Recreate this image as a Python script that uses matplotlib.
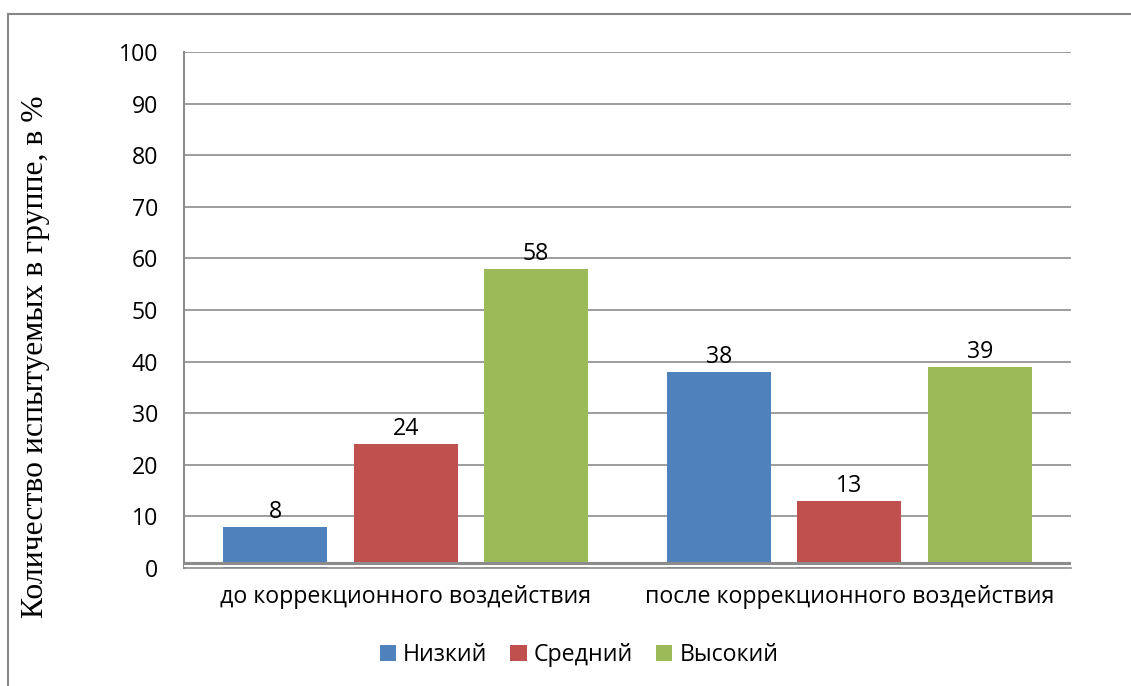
import numpy as np
import matplotlib
matplotlib.use("Agg")
import matplotlib.pyplot as plt
from matplotlib.patches import Rectangle, Patch

categories = ["до коррекционного воздействия", "после коррекционного воздействия"]
series = ["Низкий", "Средний", "Высокий"]
values = {
    "Низкий": [8, 38],
    "Средний": [24, 13],
    "Высокий": [58, 39],
}
colors = {"Низкий": "#4F81BD", "Средний": "#C0504D", "Высокий": "#9BBB59"}
yticks = [0, 10, 20, 30, 40, 50, 60, 70, 80, 90, 100]
ylabel = "Количество испытуемых в группе, в %"

plt.rcParams["font.family"] = ["Open Sans", "DejaVu Sans"]
GRID = "#8c8c8c"
FS = 16.7

fig = plt.figure(figsize=(11.31, 6.86), dpi=100)
ax = fig.add_axes([184 / 1131, 1 - 568 / 686, 887 / 1131, 516 / 686])

x = np.arange(len(categories))
width = 0.2345
step = 0.294
for i, s in enumerate(series):
    xs = x + (i - 1) * step
    ax.bar(xs, values[s], width=width, color=colors[s], zorder=2)
    for xi, v in zip(xs, values[s]):
        ax.annotate(str(v), (xi, v), xytext=(0, 6.5), textcoords="offset points",
                    ha="center", va="baseline", fontsize=FS, zorder=4)

ax.set_xlim(-0.5, 1.5)
ax.set_ylim(0, 100)
ax.set_yticks(yticks)
ax.set_yticklabels([str(t) for t in yticks], fontsize=FS)
ax.set_xticks(x)
ax.set_xticklabels(categories, fontsize=FS)
ax.tick_params(axis="both", length=0)
ax.tick_params(axis="y", pad=18.5)
ax.tick_params(axis="x", pad=12)

for t in yticks[1:]:
    ax.axhline(t, color=GRID, lw=1.2, zorder=1)
# Excel-like double base line
ax.axhspan(0.15, 0.75, color="white", zorder=3, lw=0)
ax.axhline(1.05, color=GRID, lw=2.2, zorder=3)

for side in ["top", "right"]:
    ax.spines[side].set_visible(False)
ax.spines["left"].set_color(GRID)
ax.spines["bottom"].set_color(GRID)
ax.spines["left"].set_linewidth(1.5)
ax.spines["bottom"].set_linewidth(1.2)

fig.text(36 / 1131, 1 - 357 / 686, ylabel, rotation=90, ha="center", va="center",
         fontsize=22.8, family="Liberation Serif")

handles = [Patch(facecolor=colors[s], label=s) for s in series]
fig.legend(handles=handles, loc="center", bbox_to_anchor=(579 / 1131, 1 - 655 / 686),
           ncol=3, frameon=False, fontsize=FS, handlelength=0.7, handleheight=0.7,
           handletextpad=0.3, columnspacing=1.0)

# outer chart frame (partly cut off at right and bottom)
fig.patches.append(Rectangle((8 / 1131, -0.1), 1.2, 1 - 14 / 686 + 0.1,
                             transform=fig.transFigure, fill=False,
                             edgecolor="#888888", lw=1.5))

fig.savefig("out.png", dpi=100)
